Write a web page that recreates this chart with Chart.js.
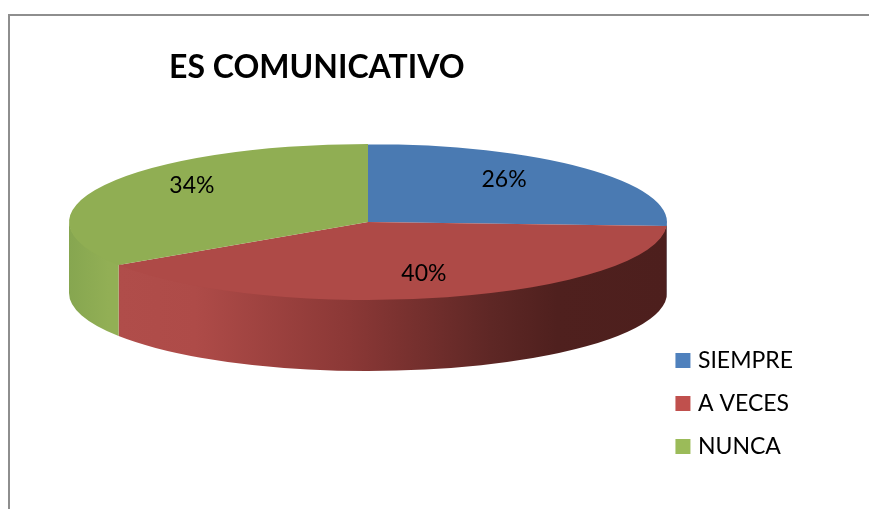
<!DOCTYPE html>
<html>
<head>
<meta charset="utf-8">
<style>
html,body{margin:0;padding:0;background:#fff;overflow:hidden}
#wrap{position:relative;width:869px;height:509px}
canvas{display:block}
</style>
<script src="https://cdn.jsdelivr.net/npm/chart.js@4"></script>
</head>
<body>
<div id="wrap"><canvas id="c" width="869" height="509"></canvas></div>
<script>
const categories = ['SIEMPRE', 'A VECES', 'NUNCA'];
const seriesValues = [25.8, 39.9, 34.3];
const topColors = ['#4a7ab2', '#ae4a47', '#90ae53'];
const legendColors = ['#4f81bd', '#c0504d', '#9bbb59'];
const chartTitle = 'ES COMUNICATIVO';

const PIE = {cx: 368, cy: 222, rx: 299, ry: 78, depth: 71};
const LABEL_POS = [[0.455, -0.55], [0.187, 0.655], [-0.589, -0.47]];
const WALL_STOPS = [
  [[0, '#3a5f8c'], [1, '#3a5f8c']],
  [[0, '#b04d4a'], [0.14, '#ae4b48'], [0.42, '#8b3836'], [0.68, '#5e2725'], [0.8, '#4f201e'], [1, '#4d1f1d']],
  [[0, '#86a650'], [0.8, '#92af55'], [1, '#92af55']]
];

const pie3d = {
  id: 'pie3d',
  beforeDatasetsDraw(chart) {
    const ctx = chart.ctx;
    const arcs = chart.getDatasetMeta(0).data;
    arcs.forEach((el, i) => {
      const a0 = Math.max(el.startAngle, 0);
      const a1 = Math.min(el.endAngle, Math.PI);
      if (a1 <= a0) return;
      const g = ctx.createLinearGradient(PIE.cx + PIE.rx * Math.cos(a1), 0, PIE.cx + PIE.rx * Math.cos(a0), 0);
      WALL_STOPS[i].forEach(s => g.addColorStop(s[0], s[1]));
      ctx.save();
      ctx.fillStyle = g;
      ctx.beginPath();
      ctx.ellipse(PIE.cx, PIE.cy - 1.5, PIE.rx, PIE.ry, 0, a0, a1);
      ctx.ellipse(PIE.cx, PIE.cy + PIE.depth, PIE.rx, PIE.ry, 0, a1, a0, true);
      ctx.closePath();
      ctx.fill();
      ctx.restore();
    });
    const el0 = arcs[0];
    ctx.save();
    ctx.translate(PIE.cx, PIE.cy);
    ctx.scale(1, PIE.ry / PIE.rx);
    ctx.translate(-el0.x, -el0.y);
  },
  afterDatasetsDraw(chart) {
    const ctx = chart.ctx;
    ctx.restore();
    ctx.save();
    ctx.font = '23px Lato';
    ctx.fillStyle = '#000';
    ctx.textAlign = 'center';
    ctx.textBaseline = 'middle';
    const total = seriesValues.reduce((a, b) => a + b, 0);
    seriesValues.forEach((v, i) => {
      const p = LABEL_POS[i];
      ctx.fillText(Math.round(v / total * 100) + '%', PIE.cx + p[0] * PIE.rx, PIE.cy + p[1] * PIE.ry);
    });
    ctx.restore();
  },
  afterDraw(chart) {
    const ctx = chart.ctx;
    ctx.save();
    ctx.strokeStyle = '#8e8e8e';
    ctx.lineWidth = 2;
    ctx.beginPath();
    ctx.moveTo(9, 509);
    ctx.lineTo(9, 15);
    ctx.lineTo(869, 15);
    ctx.stroke();
    ctx.restore();
  }
};

new Chart(document.getElementById('c'), {
  type: 'pie',
  plugins: [pie3d],
  data: {
    labels: categories,
    datasets: [{
      data: seriesValues,
      backgroundColor: topColors,
      borderWidth: 0,
      radius: PIE.rx,
      clip: false
    }]
  },
  options: {
    responsive: false,
    animation: false,
    events: [],
    layout: {padding: {left: 169, right: 66, top: 0, bottom: 31}},
    plugins: {
      tooltip: {enabled: false},
      title: {
        display: true,
        text: chartTitle,
        align: 'start',
        color: '#000',
        font: {family: 'Lato', size: 32, weight: 'bold'},
        padding: {top: 48, bottom: 10}
      },
      legend: {
        display: true,
        position: 'right',
        align: 'end',
        labels: {
          color: '#000',
          font: {family: 'Lato', size: 23},
          boxWidth: 7,
          boxHeight: 7,
          padding: 20,
          generateLabels(chart) {
            return categories.map((name, i) => ({
              text: name,
              fillStyle: legendColors[i],
              strokeStyle: legendColors[i],
              lineWidth: 8,
              fontColor: '#000',
              index: i,
              hidden: false
            }));
          }
        }
      }
    }
  }
});
</script>
</body>
</html>
